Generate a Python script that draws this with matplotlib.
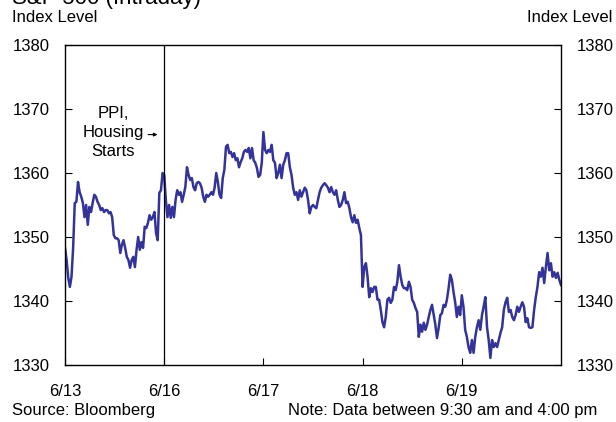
import numpy as np
import matplotlib
matplotlib.use("Agg")
import matplotlib.pyplot as plt

plt.rcParams['font.family'] = ['Liberation Sans', 'DejaVu Sans']

days = ["6/13", "6/16", "6/17", "6/18", "6/19"]

# intraday index levels, one list per trading day (9:30 am - 4:00 pm)
d613 = [1348.3, 1346.4, 1343.6, 1342.2, 1343.8, 1348.3, 1355.3, 1355.5, 1358.6, 1357.0,
        1356.3, 1355.3, 1353.1, 1355.0, 1351.9, 1354.7, 1353.9, 1355.3, 1356.6, 1356.3,
        1355.5, 1355.0, 1354.2, 1354.5, 1353.9, 1354.2, 1354.2, 1353.7, 1353.9, 1353.1,
        1350.3, 1349.8, 1349.8, 1349.5, 1347.5, 1348.8, 1349.5, 1348.3, 1346.9, 1346.4,
        1345.2, 1346.4, 1346.9, 1345.3, 1348.0, 1350.0, 1348.0, 1349.2, 1348.3, 1351.6,
        1351.4, 1352.2, 1353.4, 1352.7, 1353.1, 1353.9, 1350.6, 1349.5, 1356.9, 1357.3, 1360.0]
d616 = [1359.7, 1355.8, 1353.1, 1355.0, 1353.0, 1354.7, 1353.1, 1355.8, 1357.3, 1356.6,
        1357.0, 1355.5, 1356.6, 1357.8, 1360.9, 1359.7, 1358.9, 1359.2, 1357.8, 1357.3,
        1358.4, 1358.6, 1358.4, 1357.7, 1356.3, 1355.5, 1356.6, 1356.3, 1356.6, 1357.0,
        1356.6, 1357.7, 1360.0, 1358.6, 1356.6, 1356.1, 1359.2, 1360.5, 1364.1, 1364.4,
        1363.1, 1363.3, 1362.5, 1363.1, 1362.0, 1362.3, 1360.9, 1361.7, 1362.3, 1363.3,
        1363.6, 1363.3, 1363.9, 1362.3, 1363.9, 1362.0, 1361.6, 1360.8, 1359.4, 1359.7, 1361.6]
d617 = [1366.4, 1363.6, 1363.1, 1363.6, 1363.3, 1364.4, 1362.0, 1361.6, 1359.2, 1360.0,
        1361.3, 1359.2, 1361.3, 1362.0, 1363.1, 1363.1, 1360.9, 1359.7, 1357.7, 1356.6,
        1357.0, 1355.8, 1357.3, 1356.3, 1357.0, 1357.7, 1357.3, 1355.8, 1353.7, 1354.7,
        1355.0, 1354.7, 1354.5, 1355.8, 1357.0, 1357.7, 1358.1, 1358.4, 1358.1, 1357.7,
        1357.0, 1357.8, 1357.0, 1356.6, 1357.3, 1355.8, 1354.7, 1355.0, 1355.8, 1357.0,
        1355.3, 1355.5, 1354.5, 1353.1, 1352.3, 1353.4, 1352.2, 1352.7, 1351.4, 1350.3]
d618 = [1342.2, 1345.3, 1345.9, 1343.8, 1340.6, 1342.0, 1341.4, 1342.2, 1342.2, 1340.2,
        1340.2, 1338.6, 1336.7, 1335.9, 1337.5, 1340.2, 1340.5, 1339.7, 1340.2, 1342.2,
        1341.7, 1343.0, 1345.6, 1343.8, 1342.5, 1342.0, 1342.0, 1341.7, 1343.0, 1342.2,
        1340.2, 1339.7, 1338.9, 1338.3, 1334.4, 1336.3, 1335.2, 1336.6, 1335.5, 1336.3,
        1337.5, 1338.6, 1339.4, 1337.8, 1336.3, 1334.2, 1335.8, 1337.8, 1338.1, 1339.4,
        1339.1, 1340.2, 1342.0, 1344.1, 1343.3, 1341.4, 1339.8, 1337.5, 1339.1, 1337.8]
d619 = [1340.9, 1339.1, 1335.5, 1334.4, 1332.8, 1331.9, 1333.9, 1331.9, 1334.4, 1335.9,
        1337.0, 1335.5, 1337.8, 1339.1, 1340.6, 1335.9, 1333.9, 1331.1, 1333.9, 1332.8,
        1333.4, 1332.8, 1333.9, 1335.0, 1335.9, 1338.6, 1339.8, 1340.5, 1338.3, 1338.6,
        1337.5, 1337.0, 1337.8, 1339.1, 1338.3, 1339.1, 1339.8, 1339.1, 1336.7, 1337.3,
        1335.9, 1335.8, 1335.9, 1338.6, 1340.6, 1342.2, 1344.5, 1343.8, 1345.2, 1342.8,
        1345.3, 1347.5, 1344.8, 1345.9, 1343.8, 1344.5, 1343.6, 1344.4, 1343.3, 1342.5]

series = [d613, d616, d617, d618, d619]
xs, ys = [], []
for i, vals in enumerate(series):
    last = i == len(series) - 1
    xs.append(i + np.linspace(0, 1, len(vals), endpoint=last))
    ys.append(np.array(vals))
x = np.concatenate(xs)
y = np.concatenate(ys)

fig = plt.figure(figsize=(6.16, 4.22), dpi=100)
ax = fig.add_axes([65/616, 1-365/422, (561-65)/616, (365-45)/422])

ax.plot(x, y, color='#333399', lw=1.8)
ax.axvline(1, color='black', lw=0.9)

ax.set_xlim(0, 5)
ax.set_ylim(1330, 1380)
ax.set_yticks(range(1330, 1381, 10))
ax.set_xticks(range(5))
ax.set_xticklabels(days)
ax.tick_params(axis='y', direction='in', length=5, width=0.8, right=True, labelright=True,
               labelsize=12, pad=11)
ax.tick_params(axis='x', direction='in', length=5, width=0.8, labelsize=12, pad=14)
for s in ax.spines.values():
    s.set_linewidth(1.0)

ax.text(0.483, 1366.3, "PPI,\nHousing\nStarts", ha='center', va='center',
        fontsize=12, linespacing=1.35)
ax.annotate("", xy=(0.96, 1366.0), xytext=(0.81, 1366.0),
            arrowprops=dict(arrowstyle='-|>', lw=0.8, color='black',
                            mutation_scale=5))

fig.text(12/616, 1-4/422, "S&P 500 (Intraday)", fontsize=16, va='baseline', ha='left')
fig.text(12/616, 1-17/422, "Index Level", fontsize=12, va='center', ha='left')
fig.text(612/616, 1-17/422, "Index Level", fontsize=12, va='center', ha='right')
fig.text(12/616, 1-410/422, "Source: Bloomberg", fontsize=12, va='center', ha='left')
fig.text(597/616, 1-410/422, "Note: Data between 9:30 am and 4:00 pm", fontsize=12,
         va='center', ha='right')

fig.savefig("out.png", dpi=100)
